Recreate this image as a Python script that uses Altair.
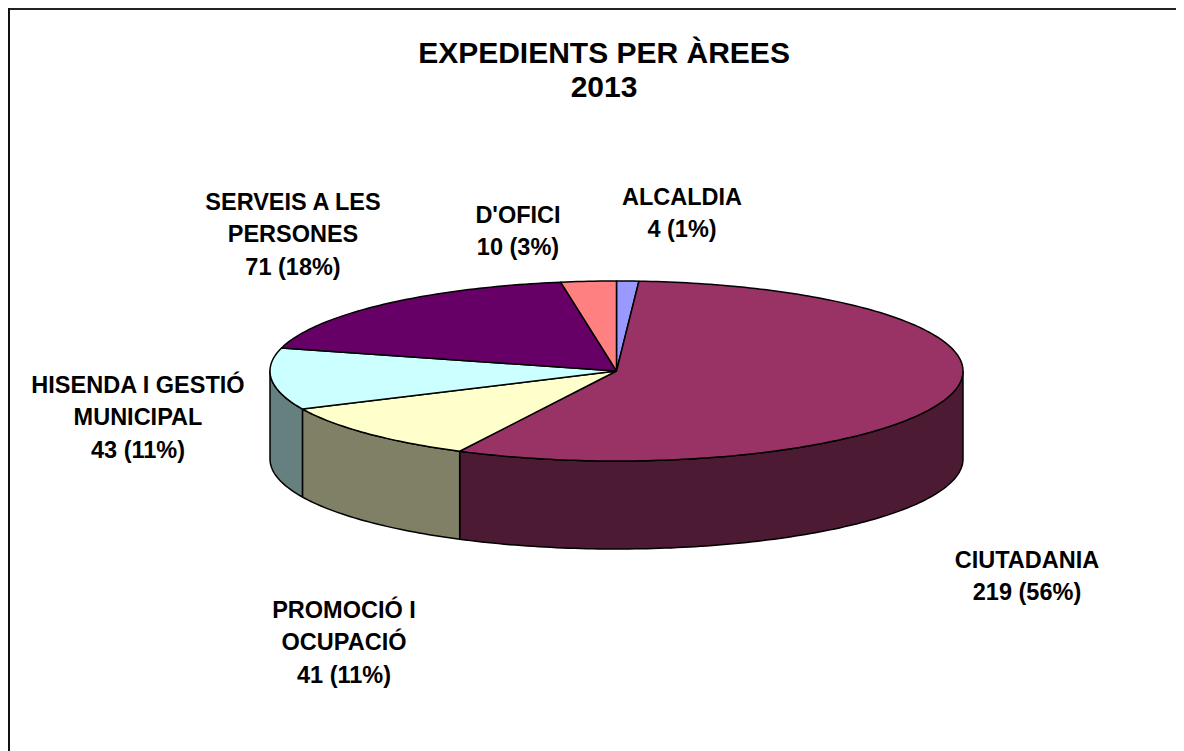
import math
import altair as alt
import pandas as pd

categories = ["ALCALDIA", "CIUTADANIA", "PROMOCIÓ I OCUPACIÓ", "HISENDA I GESTIÓ MUNICIPAL", "SERVEIS A LES PERSONES", "D'OFICI"]
values = [4, 219, 41, 43, 71, 10]
top_colors = ["#9999FF", "#993366", "#FFFFCC", "#CCFFFF", "#660066", "#FF8080"]
side_colors = ["#4D4D80", "#4D1A33", "#808066", "#668080", "#330033", "#804040"]

title_lines = ["EXPEDIENTS PER ÀREES", "2013"]
label_lines = [
    ["ALCALDIA", "4 (1%)"],
    ["CIUTADANIA", "219 (56%)"],
    ["PROMOCIÓ I", "OCUPACIÓ", "41 (11%)"],
    ["HISENDA I GESTIÓ", "MUNICIPAL", "43 (11%)"],
    ["SERVEIS A LES", "PERSONES", "71 (18%)"],
    ["D'OFICI", "10 (3%)"],
]

# layout (page pixels)
W, H = 1168, 743
CX, CY, A, B, DEPTH = 616.5, 371, 346.5, 90, 88
label_anchor = [(682, 197.5), (1027, 561), (344, 611), (138, 386), (293, 203), (518, 216)]
LINE = 32.3

xs = alt.Scale(domain=[8, 8 + W], range=[0, W], nice=False, zero=False)
ys = alt.Scale(domain=[8, 8 + H], range=[0, H], nice=False, zero=False)
X = alt.X("x:Q", scale=xs, axis=None)
Y = alt.Y("y:Q", scale=ys, axis=None)


def pt(t, dy=0.0):
    return CX + A * math.sin(t), CY - B * math.cos(t) + dy


def arc(t0, t1):
    n = max(2, int(abs(t1 - t0) / math.radians(1)) + 1)
    return [t0 + (t1 - t0) * i / n for i in range(n + 1)]


def poly(points, color):
    rows = [{"x": p[0], "y": p[1], "i": i} for i, p in enumerate(points + [points[0]])]
    return (
        alt.Chart(pd.DataFrame(rows))
        .mark_line(fill=color, stroke="#000000", strokeWidth=1.5, strokeJoin="round", clip=False)
        .encode(x=X, y=Y, order=alt.Order("i:Q"))
    )


total = sum(values)
edges = [0.0]
for v in values:
    edges.append(edges[-1] + v / total * 2 * math.pi)

layers = []
# front walls, drawn back to front
for i in [3, 1, 2]:
    lo = max(edges[i], math.pi / 2)
    hi = min(edges[i + 1], 3 * math.pi / 2)
    ts = arc(lo, hi)
    pts = [pt(t) for t in ts] + [pt(t, DEPTH) for t in reversed(ts)]
    layers.append(poly(pts, side_colors[i]))
# top faces
for i in range(len(values)):
    pts = [(CX, CY)] + [pt(t) for t in arc(edges[i], edges[i + 1])]
    layers.append(poly(pts, top_colors[i]))

# frame: only the top and left rules exist in the picture
frame_top = pd.DataFrame({"x": [8], "x2": [8 + W], "y": [9]})
frame_left = pd.DataFrame({"x": [9], "y": [8], "y2": [8 + H]})
layers.append(alt.Chart(frame_top).mark_rule(color="#222222", strokeWidth=2).encode(x=X, x2="x2:Q", y=Y))
layers.append(alt.Chart(frame_left).mark_rule(color="#111111", strokeWidth=2).encode(x=X, y=Y, y2="y2:Q"))

# texts
rows = []
for (lx, ly), lines in zip(label_anchor, label_lines):
    for k, s in enumerate(lines):
        rows.append({"x": lx, "y": ly + k * LINE, "t": s})
layers.append(
    alt.Chart(pd.DataFrame(rows))
    .mark_text(font="Liberation Sans", fontWeight="bold", fontSize=23.5, color="#000000", align="center", baseline="middle")
    .encode(x=X, y=Y, text="t:N")
)
title_df = pd.DataFrame({"x": [604, 604], "y": [54, 88], "t": title_lines})
layers.append(
    alt.Chart(title_df)
    .mark_text(font="Liberation Sans", fontWeight="bold", fontSize=30, color="#000000", align="center", baseline="middle")
    .encode(x=X, y=Y, text="t:N")
)

chart = (
    alt.layer(*layers)
    .properties(width=W, height=H, padding=0, background="#FFFFFF",
                autosize=alt.AutoSizeParams(type="none"))
    .configure_view(stroke=None)
)
chart.save("out.html", embed_options={"renderer": "svg", "actions": False})
